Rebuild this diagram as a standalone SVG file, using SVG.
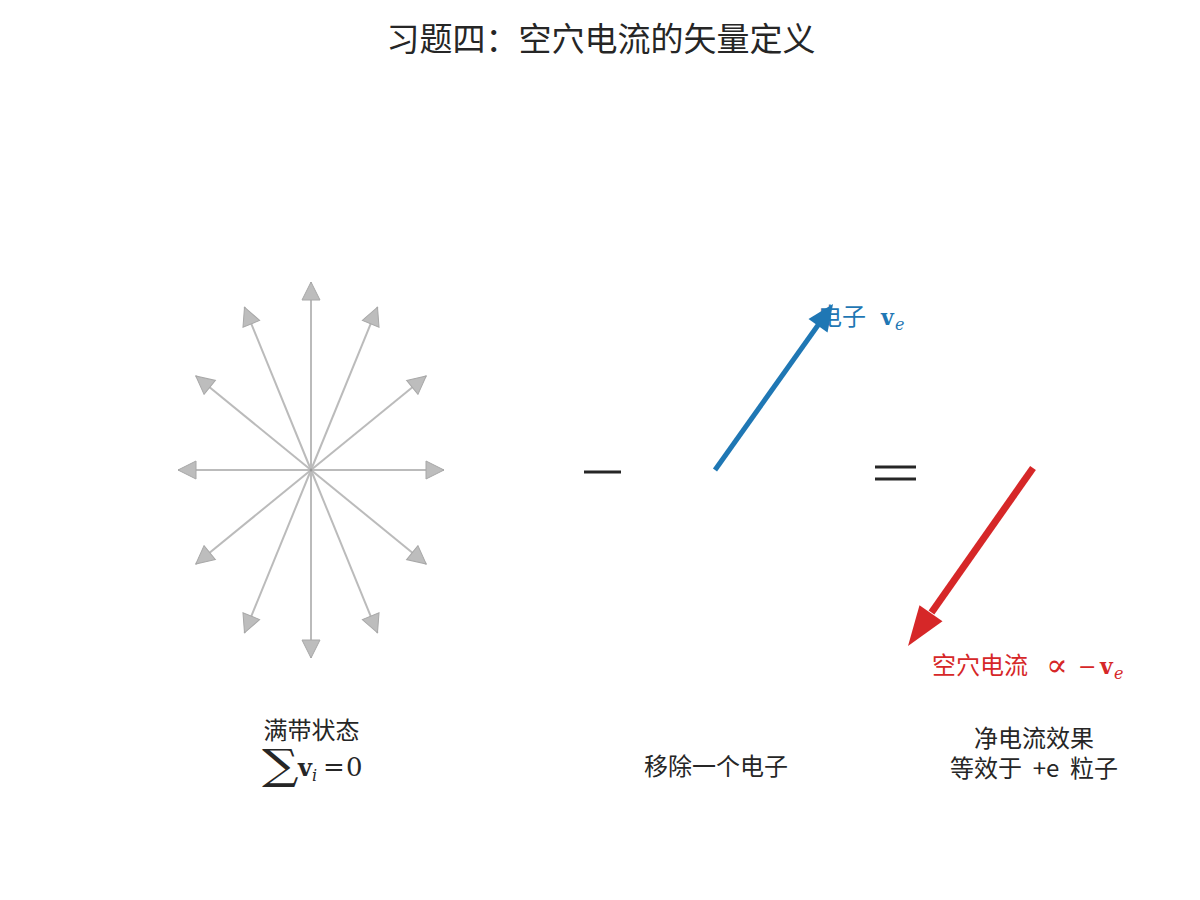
<svg xmlns="http://www.w3.org/2000/svg" width="1200" height="900" viewBox="0 0 1200 900">
<defs>
<style>
.cjk{font-family:"Noto Sans CJK SC","Noto Sans",sans-serif;}
.t{fill:#262626;font-size:24px;}
.math{font-family:"DejaVu Serif","Liberation Serif",serif;}
.star{stroke:#bbbbbb;stroke-width:2;fill:none;marker-end:url(#gh);}
.op{stroke:#262626;stroke-width:3;}
</style>
<marker id="gh" markerUnits="userSpaceOnUse" viewBox="-1 -1 20 20" markerWidth="20" markerHeight="20" refX="18" refY="9" orient="auto">
<path d="M0,0 L18,9 L0,18 Z" fill="#bdbdbd" stroke="#a8a8a8" stroke-width="1"/>
</marker>
</defs>
<rect width="1200" height="900" fill="#ffffff"/>
<text class="cjk" x="601" y="51" font-size="33" fill="#262626" text-anchor="middle">习题四：空穴电流的矢量定义</text>

<g id="connectors">
<g id="full-band-star">
<line class="star" x1="311" y1="470" x2="444" y2="470"/>
<line class="star" x1="311" y1="470" x2="426.2" y2="376"/>
<line class="star" x1="311" y1="470" x2="377.5" y2="307.2"/>
<line class="star" x1="311" y1="470" x2="311" y2="282"/>
<line class="star" x1="311" y1="470" x2="244.5" y2="307.2"/>
<line class="star" x1="311" y1="470" x2="195.8" y2="376"/>
<line class="star" x1="311" y1="470" x2="178" y2="470"/>
<line class="star" x1="311" y1="470" x2="195.8" y2="564"/>
<line class="star" x1="311" y1="470" x2="244.5" y2="632.8"/>
<line class="star" x1="311" y1="470" x2="311" y2="658"/>
<line class="star" x1="311" y1="470" x2="377.5" y2="632.8"/>
<line class="star" x1="311" y1="470" x2="426.2" y2="564"/>
<circle cx="311" cy="470" r="1.5" fill="#999"/>
</g>
<g id="electron-arrow">
<line x1="715" y1="470" x2="818.5" y2="324.5" stroke="#1f77b4" stroke-width="5"/>
<polygon points="833,304 827.5,332.5 808.5,319" fill="#1f77b4"/>
</g>
<g id="hole-arrow">
<line x1="1033" y1="468" x2="931.5" y2="612.5" stroke="#d62728" stroke-width="7"/>
<polygon points="908,646 942.5,621.3 919.5,605.3" fill="#d62728"/>
</g>
</g>

<g id="operators">
<line class="op" x1="584" y1="472" x2="621" y2="472"/>
<line class="op" x1="875" y1="467" x2="916" y2="467"/>
<line class="op" x1="875" y1="479" x2="916" y2="479"/>
</g>

<g id="electron-label" fill="#1f77b4">
<text class="cjk" x="818" y="325" font-size="24">电子</text>
<text class="math" x="881" y="325" font-size="22" font-weight="bold">v</text>
<text class="math" x="895" y="330" font-size="16" font-style="italic">e</text>
</g>

<g id="hole-label" fill="#d62728">
<text class="cjk" x="932" y="674" font-size="24">空穴电流</text>
<text class="math" x="1046" y="676" font-size="32">∝</text>
<text class="math" x="1078" y="674" font-size="22">−</text>
<text class="math" x="1100" y="674" font-size="22" font-weight="bold">v</text>
<text class="math" x="1114" y="679" font-size="16" font-style="italic">e</text>
</g>

<g id="full-band-caption" fill="#262626">
<text class="cjk" x="311.5" y="739" font-size="24" text-anchor="middle">满带状态</text>
<text class="math" font-size="42" font-weight="200" transform="translate(262 779) scale(1.22 1)">∑</text>
<text class="math" x="298" y="776" font-size="24" font-weight="bold">v</text>
<text class="math" x="312" y="781" font-size="16" font-style="italic">i</text>
<text class="math" x="323" y="776" font-size="26">=</text>
<text class="math" x="346" y="776" font-size="26">0</text>
</g>

<g id="remove-caption">
<text class="cjk t" x="716" y="775" text-anchor="middle">移除一个电子</text>
</g>

<g id="net-caption">
<text class="cjk t" x="1034" y="747" text-anchor="middle">净电流效果</text>
<text class="cjk t" x="1034" y="777" text-anchor="middle" xml:space="preserve">等效于  +e  粒子</text>
</g>
</svg>
